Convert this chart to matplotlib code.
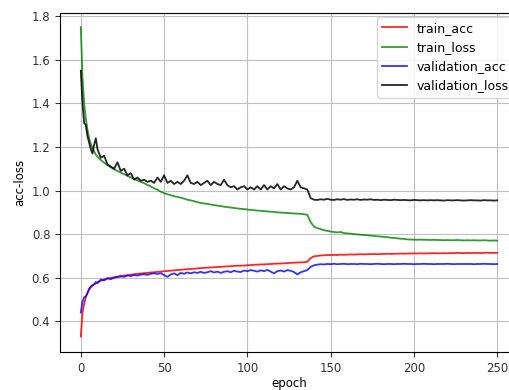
import matplotlib
matplotlib.use('Agg')
import matplotlib.pyplot as plt

# epochs: every epoch up to 10, then every second epoch
EPOCHS = list(range(0, 11)) + list(range(12, 251, 2))

TRAIN_ACC = [
    0.33, 0.44, 0.48, 0.51, 0.53, 0.545, 0.555, 0.563, 0.569, 0.574, 0.579,
    0.586, 0.591, 0.596, 0.599, 0.602, 0.605, 0.608, 0.61, 0.612, 0.614,
    0.616, 0.618, 0.619, 0.621, 0.622, 0.624, 0.625, 0.627, 0.628, 0.63,
    0.631, 0.632, 0.634, 0.635, 0.636, 0.638, 0.639, 0.64, 0.641, 0.643,
    0.644, 0.645, 0.646, 0.647, 0.648, 0.649, 0.65, 0.651, 0.652, 0.653,
    0.654, 0.655, 0.655, 0.656, 0.657, 0.658, 0.659, 0.66, 0.661, 0.661,
    0.662, 0.663, 0.664, 0.665, 0.665, 0.666, 0.667, 0.668, 0.669, 0.67,
    0.67, 0.671, 0.673, 0.69, 0.698, 0.7, 0.702, 0.703, 0.704, 0.704,
    0.705, 0.704, 0.706, 0.705, 0.706, 0.707, 0.706, 0.707, 0.708, 0.707,
    0.708, 0.708, 0.709, 0.708, 0.709, 0.709, 0.71, 0.709, 0.71, 0.71,
    0.711, 0.71, 0.711, 0.711, 0.712, 0.711, 0.712, 0.711, 0.712, 0.712,
    0.713, 0.712, 0.712, 0.713, 0.712, 0.713, 0.713, 0.714, 0.713, 0.713,
    0.714, 0.713, 0.714, 0.714, 0.713, 0.714, 0.715, 0.714, 0.714, 0.714,
]

TRAIN_LOSS = [
    1.75, 1.52, 1.40, 1.33, 1.28, 1.24, 1.215, 1.195, 1.18, 1.165, 1.155,
    1.14, 1.128, 1.117, 1.107, 1.098, 1.09, 1.082, 1.075, 1.067, 1.06,
    1.053, 1.047, 1.04, 1.034, 1.026, 1.019, 1.011, 1.004, 0.995, 0.988,
    0.983, 0.979, 0.974, 0.971, 0.967, 0.963, 0.958, 0.955, 0.951, 0.947,
    0.943, 0.941, 0.939, 0.936, 0.933, 0.931, 0.929, 0.926, 0.924, 0.922,
    0.92, 0.918, 0.916, 0.915, 0.913, 0.911, 0.91, 0.908, 0.907, 0.906,
    0.904, 0.903, 0.902, 0.90, 0.899, 0.898, 0.897, 0.896, 0.895, 0.894,
    0.893, 0.891, 0.889, 0.855, 0.835, 0.828, 0.823, 0.818, 0.815, 0.812,
    0.810, 0.808, 0.810, 0.805, 0.803, 0.802, 0.800, 0.799, 0.797, 0.796,
    0.795, 0.793, 0.792, 0.790, 0.789, 0.787, 0.786, 0.784, 0.782, 0.781,
    0.779, 0.778, 0.776, 0.775, 0.775, 0.774, 0.775, 0.774, 0.774, 0.773,
    0.774, 0.773, 0.773, 0.772, 0.773, 0.772, 0.772, 0.773, 0.772, 0.771,
    0.772, 0.771, 0.772, 0.771, 0.771, 0.772, 0.771, 0.770, 0.771, 0.770,
]

VAL_ACC = [
    0.44, 0.49, 0.51, 0.515, 0.53, 0.55, 0.56, 0.566, 0.57, 0.58, 0.575,
    0.592, 0.588, 0.598, 0.593, 0.60, 0.603, 0.606, 0.604, 0.61, 0.608,
    0.612, 0.61, 0.614, 0.616, 0.613, 0.618, 0.62, 0.617, 0.621, 0.612,
    0.604, 0.615, 0.62, 0.612, 0.622, 0.618, 0.624, 0.62, 0.625, 0.622,
    0.627, 0.622, 0.625, 0.63, 0.624, 0.628, 0.622, 0.627, 0.63, 0.625,
    0.632, 0.628, 0.626, 0.633, 0.63, 0.635, 0.632, 0.628, 0.634, 0.63,
    0.636, 0.628, 0.62, 0.63, 0.633, 0.628, 0.635, 0.632, 0.626, 0.615,
    0.625, 0.63, 0.635, 0.65, 0.657, 0.66, 0.662, 0.661, 0.663, 0.662,
    0.664, 0.662, 0.663, 0.664, 0.662, 0.663, 0.663, 0.662, 0.664, 0.663,
    0.663, 0.662, 0.663, 0.664, 0.663, 0.662, 0.663, 0.663, 0.662, 0.663,
    0.663, 0.664, 0.663, 0.663, 0.662, 0.663, 0.663, 0.664, 0.663, 0.663,
    0.662, 0.663, 0.663, 0.663, 0.664, 0.663, 0.662, 0.663, 0.663, 0.663,
    0.663, 0.663, 0.662, 0.663, 0.663, 0.664, 0.663, 0.663, 0.662, 0.663,
]

VAL_LOSS = [
    1.55, 1.40, 1.31, 1.30, 1.25, 1.22, 1.19, 1.17, 1.21, 1.24, 1.19,
    1.15, 1.16, 1.12, 1.11, 1.10, 1.13, 1.09, 1.10, 1.07, 1.08,
    1.05, 1.06, 1.045, 1.05, 1.04, 1.045, 1.035, 1.06, 1.04, 1.07,
    1.035, 1.045, 1.03, 1.04, 1.03, 1.045, 1.07, 1.035, 1.03, 1.04,
    1.025, 1.035, 1.045, 1.025, 1.04, 1.03, 1.025, 1.05, 1.025, 1.015,
    1.02, 1.005, 1.015, 1.02, 1.005, 1.015, 1.005, 1.02, 1.005, 1.025,
    1.005, 1.02, 1.01, 1.03, 1.005, 1.02, 1.01, 1.005, 1.015, 1.045,
    1.015, 1.01, 1.005, 0.965, 0.958, 0.957, 0.96, 0.958, 0.962, 0.958,
    0.957, 0.96, 0.958, 0.961, 0.957, 0.959, 0.958, 0.96, 0.957, 0.959,
    0.958, 0.96, 0.957, 0.958, 0.956, 0.958, 0.957, 0.956, 0.958, 0.957,
    0.956, 0.957, 0.956, 0.955, 0.957, 0.956, 0.955, 0.956, 0.955, 0.956,
    0.955, 0.956, 0.955, 0.954, 0.956, 0.955, 0.955, 0.956, 0.955, 0.954,
    0.955, 0.956, 0.955, 0.955, 0.954, 0.956, 0.955, 0.955, 0.954, 0.955,
]

X_TICKS = [0, 50, 100, 150, 200, 250]
Y_TICKS = [0.4, 0.6, 0.8, 1.0, 1.2, 1.4, 1.6, 1.8]

plt.rcParams['font.size'] = 8.5

fig = plt.figure(figsize=(5.1, 3.9), dpi=100)
# the original screenshot is cropped: the right spine sits just past the edge
ax = fig.add_axes([60 / 510, 1 - 352 / 390, 458 / 510, 339 / 390])

ax.plot(EPOCHS, TRAIN_ACC, color='r', lw=1.3, alpha=0.85, label='train_acc')
ax.plot(EPOCHS, TRAIN_LOSS, color='g', lw=1.3, alpha=0.8, label='train_loss')
ax.plot(EPOCHS, VAL_ACC, color='b', lw=1.3, alpha=0.8, label='validation_acc')
ax.plot(EPOCHS, VAL_LOSS, color='k', lw=1.3, alpha=0.85, label='validation_loss')

ax.set_xticks(X_TICKS)
ax.set_yticks(Y_TICKS)
ax.set_xlim(-12.5, 262.5)
ax.set_ylim(0.259, 1.815)
ax.grid(True, color='#c0c0c0')
ax.tick_params(colors='#333333')
ax.set_xlabel('epoch', labelpad=2)
ax.set_ylabel('acc-loss')
ax.legend(loc='upper right', fontsize=9, borderaxespad=0.3)

fig.savefig('out.png')
